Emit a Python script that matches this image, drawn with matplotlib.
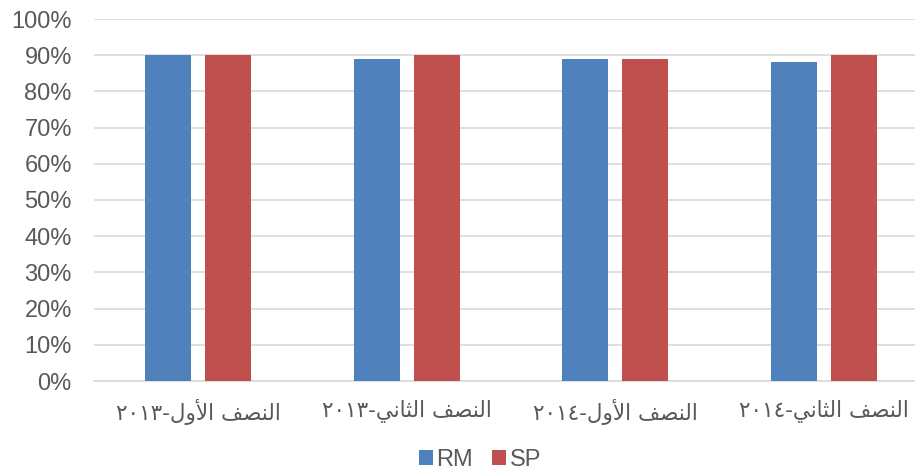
import matplotlib
matplotlib.use("Agg")
import matplotlib.pyplot as plt
import numpy as np

# categories (logical Arabic text) and values
categories = ["النصف الأول-٢٠١٣", "النصف الثاني-٢٠١٣",
              "النصف الأول-٢٠١٤", "النصف الثاني-٢٠١٤"]
rm = [90, 89, 89, 88]
sp = [90, 90, 89, 90]
series_names = ["RM", "SP"]
yticks = [0, 10, 20, 30, 40, 50, 60, 70, 80, 90, 100]

BLUE = "#4F81BD"
RED = "#C0504D"
INK = "#595959"
GRID = "#D9D9D9"

# minimal Arabic shaping: (isolated, final, initial, medial); None -> no left join
FORMS = {
    "ا": ("\uFE8D", "\uFE8E", None, None),
    "أ": ("\uFE83", "\uFE84", None, None),
    "و": ("\uFEED", "\uFEEE", None, None),
    "ل": ("\uFEDD", "\uFEDE", "\uFEDF", "\uFEE0"),
    "ن": ("\uFEE5", "\uFEE6", "\uFEE7", "\uFEE8"),
    "ص": ("\uFEB9", "\uFEBA", "\uFEBB", "\uFEBC"),
    "ف": ("\uFED1", "\uFED2", "\uFED3", "\uFED4"),
    "ث": ("\uFE99", "\uFE9A", "\uFE9B", "\uFE9C"),
    "ي": ("\uFEF1", "\uFEF2", "\uFEF3", "\uFEF4"),
}
LAM_ALEF = {"ا": ("\uFEFB", "\uFEFC"), "أ": ("\uFEF7", "\uFEF8")}


def shape_word(w):
    out = []
    i = 0
    prev_joins = False
    while i < len(w):
        c = w[i]
        if c == "ل" and i + 1 < len(w) and w[i + 1] in LAM_ALEF:
            iso, fin = LAM_ALEF[w[i + 1]]
            out.append(fin if prev_joins else iso)
            prev_joins = False
            i += 2
            continue
        iso, fin, ini, med = FORMS[c]
        nxt = i + 1 < len(w) and w[i + 1] in FORMS
        can_left = ini is not None and nxt
        if prev_joins and can_left:
            out.append(med)
        elif prev_joins:
            out.append(fin)
        elif can_left:
            out.append(ini)
        else:
            out.append(iso)
        prev_joins = can_left
        i += 1
    return "".join(out)


def visual(label):
    # "words-digits" -> digits first on the left, then reversed shaped words
    text, year = label.split("-")
    words = [shape_word(w)[::-1] for w in text.split(" ")]
    return year + "-" + " ".join(reversed(words))


x = np.arange(len(categories))
w = 0.222
off = 0.144

fig = plt.figure(figsize=(9.15, 4.71), dpi=100, facecolor="white")
ax = fig.add_axes([94 / 915, 1 - 381 / 471, 834 / 915, 362 / 471])

ax.bar(x - off, rm, w, color=BLUE, label=series_names[0], zorder=3)
ax.bar(x + off, sp, w, color=RED, label=series_names[1], zorder=3)

ax.set_xlim(-0.5, len(categories) - 0.5)
ax.set_ylim(0, 100)
ax.set_yticks(yticks)
ax.set_yticklabels([f"{t}%" for t in yticks], fontsize=17, color=INK,
                   family="Liberation Sans")
ax.yaxis.grid(True, color=GRID, lw=1.2, zorder=0)
ax.tick_params(axis="y", length=0, pad=16)
ax.tick_params(axis="x", length=0, pad=13)
ax.set_xticks(x)
ax.set_xticklabels([visual(c) for c in categories], fontsize=15.5, color=INK,
                   family=["DejaVu Sans"])
for s in ["top", "right", "left"]:
    ax.spines[s].set_visible(False)
ax.spines["bottom"].set_color(GRID)
ax.spines["bottom"].set_linewidth(1.2)

fig.legend(loc="center", bbox_to_anchor=(480 / 915, 1 - 460 / 471), ncol=2,
           frameon=False, prop={"family": "Liberation Sans", "size": 17},
           labelcolor=INK, handlelength=0.6, handleheight=0.6,
           handletextpad=0.15, columnspacing=0.8)

fig.savefig("out.png", dpi=100)
